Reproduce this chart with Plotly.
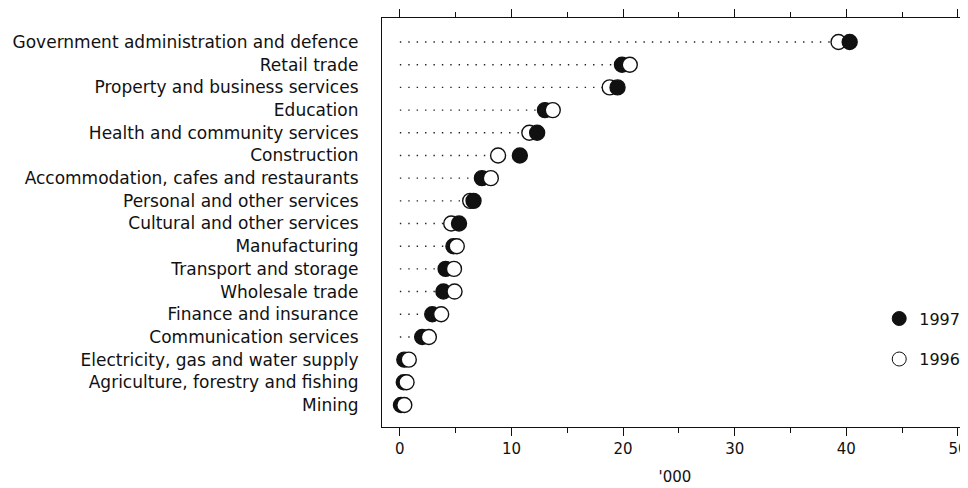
import plotly.graph_objects as go

industries = [
    "Government administration and defence",
    "Retail trade",
    "Property and business services",
    "Education",
    "Health and community services",
    "Construction",
    "Accommodation, cafes and restaurants",
    "Personal and other services",
    "Cultural and other services",
    "Manufacturing",
    "Transport and storage",
    "Wholesale trade",
    "Finance and insurance",
    "Communication services",
    "Electricity, gas and water supply",
    "Agriculture, forestry and fishing",
    "Mining",
]
jobs_1997 = [40.3, 19.9, 19.5, 13.0, 12.3, 10.75, 7.35, 6.6, 5.3, 4.8, 4.1, 3.9, 2.9, 2.0, 0.4, 0.35, 0.1]
jobs_1996 = [39.3, 20.6, 18.8, 13.7, 11.6, 8.8, 8.15, 6.3, 4.6, 5.1, 4.85, 4.9, 3.7, 2.6, 0.8, 0.6, 0.4]

BLACK = "#111111"
FONT = "DejaVu Sans, Liberation Sans, Arial, sans-serif"

fig = go.Figure()

# dotted leader lines from zero to the first dot
lx, ly = [], []
for name, a, b in zip(industries, jobs_1997, jobs_1996):
    lx += [0, min(a, b), None]
    ly += [name, name, None]
fig.add_trace(go.Scatter(x=lx, y=ly, mode="lines", showlegend=False, hoverinfo="skip",
                         line=dict(color="#222222", width=1.4, dash="1.4px,7px")))

# draw the left dot first, the right one on top
left_x, left_c, right_x, right_c = [], [], [], []
for a, b in zip(jobs_1997, jobs_1996):
    if b > a:
        left_x.append(a); left_c.append(BLACK)
        right_x.append(b); right_c.append("white")
    else:
        left_x.append(b); left_c.append("white")
        right_x.append(a); right_c.append(BLACK)

for xs, cs in [(left_x, left_c), (right_x, right_c)]:
    fig.add_trace(go.Scatter(x=xs, y=industries, mode="markers", showlegend=False,
                             marker=dict(size=15, color=cs, line=dict(color=BLACK, width=1.4))))

# legend entries
fig.add_trace(go.Scatter(x=[None], y=[None], mode="markers", name="1997", legend="legend",
                         marker=dict(size=14, color=BLACK, line=dict(color=BLACK, width=1))))
fig.add_trace(go.Scatter(x=[None], y=[None], mode="markers", name="1996", legend="legend2",
                         marker=dict(size=14, color="white", line=dict(color=BLACK, width=1))))

legend_style = dict(xanchor="left", yanchor="middle", bgcolor="rgba(0,0,0,0)",
                    font=dict(size=16, family=FONT, color=BLACK), itemwidth=30)

fig.update_layout(
    width=968, height=488,
    margin=dict(l=374, r=8, t=10, b=69),
    paper_bgcolor="white", plot_bgcolor="white",
    font=dict(family=FONT, size=15, color=BLACK),
    legend=dict(x=0.8485, y=0.265, **legend_style),
    legend2=dict(x=0.8485, y=0.166, **legend_style),
    xaxis=dict(
        range=[-1.6, 50.9], tickvals=[0, 10, 20, 30, 40, 50], showgrid=False, zeroline=False,
        ticks="outside", ticklen=8, tickwidth=1.2, tickcolor=BLACK,
        showline=True, linecolor=BLACK, linewidth=1.2, mirror="allticks",
        minor=dict(dtick=5, tick0=0, ticks="outside", ticklen=5, tickcolor=BLACK, tickwidth=1),
        title=dict(text="'000", font=dict(size=15), standoff=14),
        tickfont=dict(size=15), automargin=False,
    ),
    yaxis=dict(
        categoryorder="array", categoryarray=industries,
        range=[16.97, -1.06], showgrid=False, zeroline=False,
        showline=True, linecolor=BLACK, linewidth=1.2, ticks="",
        ticklabelstandoff=19, tickfont=dict(size=17), automargin=False,
    ),
)

fig.write_html("out.html")
